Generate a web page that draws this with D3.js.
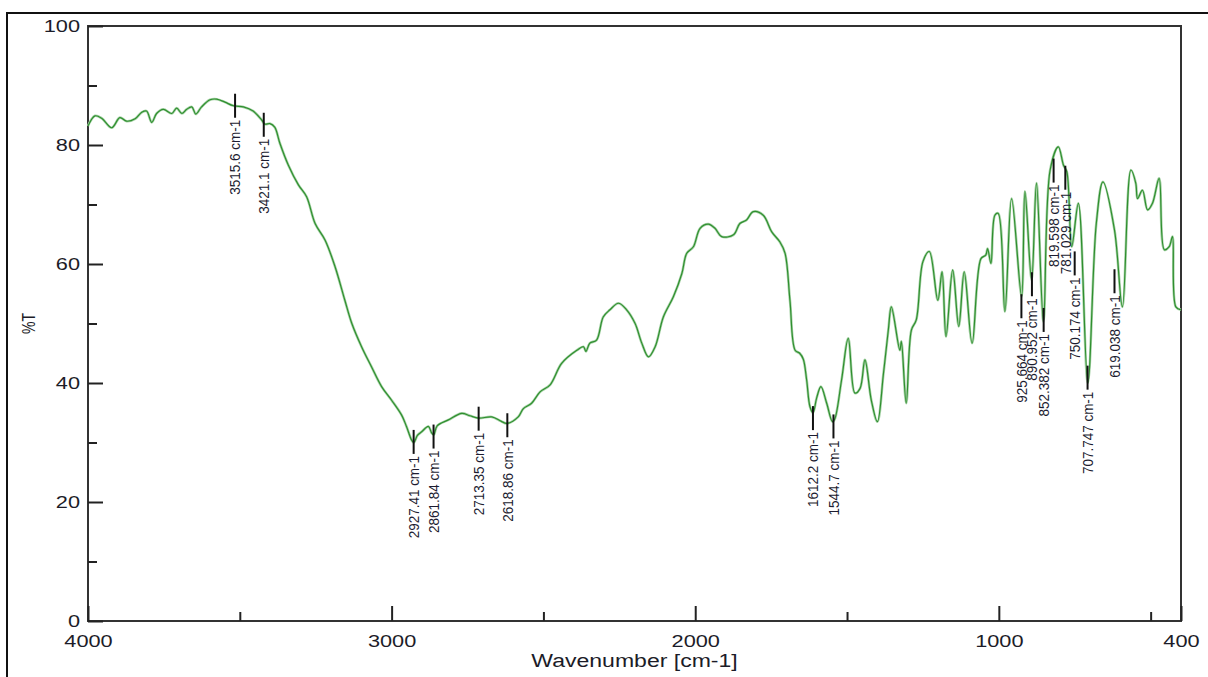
<!DOCTYPE html>
<html>
<head>
    <meta charset="UTF-8">
    <title>IR spectrum</title>
    <script src="https://d3js.org/d3.v7.min.js"></script>
    <style>
        body{
            margin:0;
            background-color:#fff;
            font-family:"Liberation Sans", Arial, sans-serif;
        }
    </style>
</head>
<body>
<div id="chart"></div>
<script>
    // spectrum: wavenumber (cm-1) and %T
    const wavenumber = [4000,3977,3955,3922,3895,3873,3845,3823,3807,3790,3774,3752,3724,3708,3691,3675,3658,3645,3626,3598,3576,3549,3521,3488,3456,3428,3417,3401,3385,3368,3340,3307,3280,3252,3219,3186,3154,3131,3099,3066,3033,3000,2967,2951,2934,2927,2915,2901,2879,2868,2861,2850,2813,2769,2742,2714,2670,2640,2621,2583,2566,2539,2511,2478,2440,2390,2368,2360,2347,2325,2303,2281,2253,2226,2198,2176,2154,2132,2105,2072,2044,2028,2006,1984,1957,1935,1913,1874,1853,1831,1809,1776,1748,1721,1704,1688,1671,1656,1644,1633,1622,1612,1600,1586,1567,1548,1540,1518,1496,1474,1457,1441,1420,1400,1380,1364,1354,1326,1321,1305,1288,1272,1250,1229,1201,1187,1174,1152,1132,1114,1088,1059,1043,1037,1026,1013,1002,980,958,925,914,892,876,853,831,804,787,776,760,738,707,679,657,619,593,565,549,543,527,510,494,472,455,439,428,417,400];
    const transmittance = [83.2,84.9,84.5,82.9,84.6,84.0,84.4,85.5,85.7,83.8,85.3,86.0,85.3,86.2,85.3,86.0,86.4,85.2,86.4,87.6,87.7,87.2,86.6,86.4,85.7,84.2,83.5,83.6,83.0,80.3,76.6,73.3,71.3,66.8,64.0,59.5,53.9,50.0,46.1,42.7,39.4,37.1,34.6,32.7,30.4,30.0,31.2,31.8,32.7,31.6,31.3,32.8,33.8,34.9,34.5,34.1,34.3,33.6,33.2,34.3,35.7,36.6,38.5,39.7,43.3,45.5,46.1,45.3,46.7,47.2,51.1,52.3,53.4,52.3,50.0,46.7,44.4,46.1,51.1,54.5,58.4,61.8,62.9,66.0,66.7,66.0,64.6,64.9,66.8,67.4,68.8,68.2,65.4,63.7,61.8,53.9,45.5,45.0,44.0,40.5,36.0,35.0,37.5,39.4,36.6,33.5,34.0,40.5,47.5,38.3,39.1,43.9,37.1,33.5,41.6,48.9,52.8,45.5,47.0,36.6,48.9,50.6,60.4,62.1,53.9,58.7,47.8,59.0,49.5,58.7,46.7,60.9,61.5,62.6,60.1,68.2,68.5,52.0,71.0,54.5,72.2,57.3,73.6,50.3,75.8,79.7,76.6,75.5,62.9,70.2,40.0,66.8,73.8,65.7,52.8,75.8,73.6,71.0,72.4,69.1,70.2,74.4,62.4,62.9,64.6,52.8,52.3];

    // peak picks: position, %T of the marker, label
    const peakWn = [3515.6,3421.1,2927.41,2861.84,2713.35,2618.86,1612.2,1544.7,925.664,890.952,852.382,819.598,781.029,750.174,707.747,619.038];
    const peakT = [86.6,83.4,30.1,31.0,34.0,32.9,34.1,32.7,52.9,56.6,50.6,75.7,74.5,60.1,40.9,57.1];
    const peakText = ["3515.6 cm-1","3421.1 cm-1","2927.41 cm-1","2861.84 cm-1","2713.35 cm-1","2618.86 cm-1","1612.2 cm-1","1544.7 cm-1","925.664 cm-1","890.952 cm-1","852.382 cm-1","819.598 cm-1","781.029 cm-1","750.174 cm-1","707.747 cm-1","619.038 cm-1"];

    const xTicksMajor = [4000,3000,2000,1000,400];
    const xTicksMinor = [3500,2500,1500,500];
    const yTicksMajor = [0,20,40,60,80,100];
    const yTicksMinor = [10,30,50,70,90];

    const width = 1208;
    const height = 677;
    const margin = { top: 26, right: 27, bottom: 56, left: 88 };
    const stretch = 1.28; // the original's text is drawn wide

    const svg = d3.select("#chart")
        .append("svg")
        .attr("width", width)
        .attr("height", height);

    // outer frame (top and left edges only are in view)
    svg.append("path")
        .attr("d", `M7,${height} L7,13 L${width},13`)
        .attr("fill", "none")
        .attr("stroke", "#111")
        .attr("stroke-width", 2);

    const x = d3.scaleLinear()
        .domain([4000, 400])
        .range([margin.left, width - margin.right]);

    const y = d3.scaleLinear()
        .domain([0, 100])
        .range([height - margin.bottom, margin.top]);

    // plot frame
    svg.append("rect")
        .attr("x", margin.left)
        .attr("y", margin.top)
        .attr("width", width - margin.left - margin.right)
        .attr("height", height - margin.top - margin.bottom)
        .attr("fill", "none")
        .attr("stroke", "#333")
        .attr("stroke-width", 2);

    const yMajor = svg.append("g")
        .attr("transform", `translate(${margin.left},0)`)
        .call(d3.axisLeft(y).tickValues(yTicksMajor).tickSizeInner(-15).tickSizeOuter(0));
    svg.append("g")
        .attr("transform", `translate(${margin.left},0)`)
        .call(d3.axisLeft(y).tickValues(yTicksMinor).tickSizeInner(-9).tickSizeOuter(0).tickFormat(""));

    const xMajor = svg.append("g")
        .attr("transform", `translate(0,${height - margin.bottom})`)
        .call(d3.axisBottom(x).tickValues(xTicksMajor).tickSizeInner(-15).tickSizeOuter(0).tickFormat(d3.format("d")));
    svg.append("g")
        .attr("transform", `translate(0,${height - margin.bottom})`)
        .call(d3.axisBottom(x).tickValues(xTicksMinor).tickSizeInner(-9).tickSizeOuter(0).tickFormat(""));

    svg.selectAll(".domain").remove();
    svg.selectAll(".tick line").attr("stroke", "#222").attr("stroke-width", 2);

    yMajor.selectAll("text")
        .attr("x", null)
        .attr("dy", null)
        .attr("transform", `translate(-8,5) scale(${stretch},1)`)
        .attr("font-size", 17)
        .attr("font-family", "Liberation Sans, Arial, sans-serif")
        .attr("fill", "#1c1c28");
    xMajor.selectAll("text")
        .attr("y", null)
        .attr("dy", null)
        .attr("transform", `translate(0,26) scale(${stretch},1)`)
        .attr("font-size", 17)
        .attr("font-family", "Liberation Sans, Arial, sans-serif")
        .attr("fill", "#1c1c28");

    // axis titles
    svg.append("text")
        .attr("transform", `translate(${(margin.left + width - margin.right) / 2},667) scale(${stretch},1)`)
        .attr("text-anchor", "middle")
        .attr("font-size", 18)
        .attr("fill", "#1c1c28")
        .text("Wavenumber [cm-1]");

    svg.append("text")
        .attr("transform", `translate(28,${(margin.top + height - margin.bottom) / 2}) rotate(-90) scale(1,1.3)`)
        .attr("text-anchor", "middle")
        .attr("dominant-baseline", "central")
        .attr("font-size", 14)
        .attr("fill", "#1c1c28")
        .text("%T");

    // spectrum
    const spectrum = wavenumber.map((w, i) => ({ w: w, t: transmittance[i] }));
    const line = d3.line()
        .x(d => x(d.w))
        .y(d => y(d.t))
        .curve(d3.curveCatmullRom.alpha(0.5));

    svg.append("path")
        .datum(spectrum)
        .attr("fill", "none")
        .attr("stroke", "#a9d3a9")
        .attr("stroke-width", 2.6)
        .attr("d", line);
    svg.append("path")
        .datum(spectrum)
        .attr("fill", "none")
        .attr("stroke", "#2f8f2f")
        .attr("stroke-width", 1.2)
        .attr("d", line);

    // peak markers
    const peaks = peakWn.map((w, i) => ({ w: w, t: peakT[i], label: peakText[i] }));
    const pk = svg.selectAll(".peak")
        .data(peaks)
        .enter()
        .append("g")
        .attr("class", "peak");

    pk.append("line")
        .attr("x1", d => x(d.w))
        .attr("x2", d => x(d.w))
        .attr("y1", d => y(d.t) - 12)
        .attr("y2", d => y(d.t) + 12)
        .attr("stroke", "#111")
        .attr("stroke-width", 2);

    pk.append("text")
        .attr("transform", d => `translate(${x(d.w)},${y(d.t) + 14}) rotate(-90) scale(1,1.15)`)
        .attr("text-anchor", "end")
        .attr("dominant-baseline", "central")
        .attr("font-size", 13.5)
        .attr("fill", "#1c1c30")
        .text(d => d.label);
</script>
</body>
</html>
